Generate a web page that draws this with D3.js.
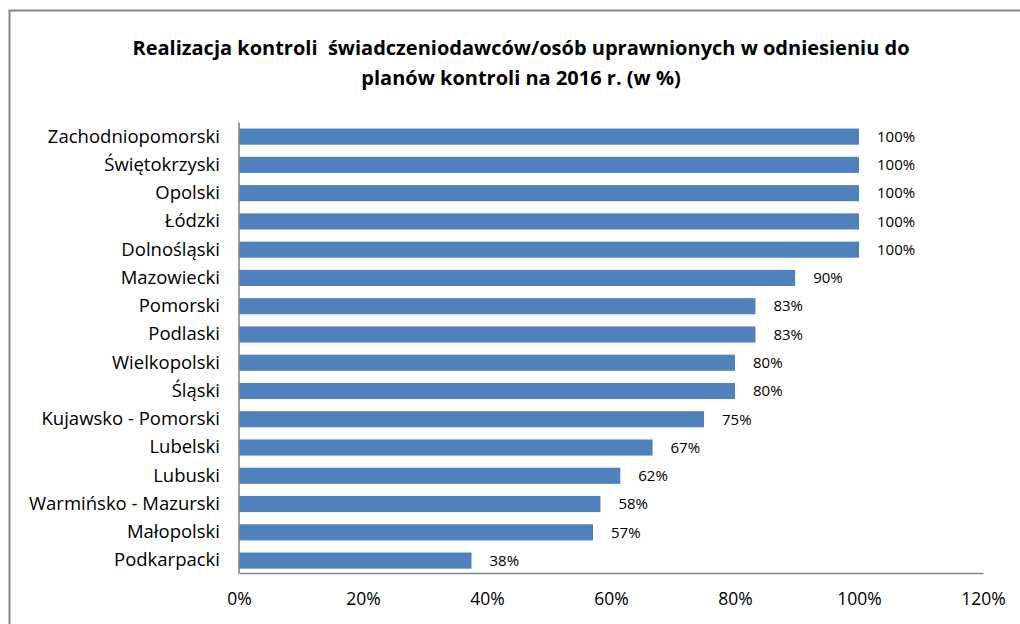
<!DOCTYPE html>
<html><head><meta charset="utf-8">
<script src="https://cdn.jsdelivr.net/npm/d3@7"></script>
<style>body{margin:0;background:#fff;} svg{display:block;} text{white-space:pre;}</style>
</head><body>
<svg id="c" width="1020" height="624"></svg>
<script>
const titleLines = ["Realizacja kontroli  świadczeniodawców/osób uprawnionych w odniesieniu do", "planów kontroli na 2016 r. (w %)"];
const categories = ["Zachodniopomorski","Świętokrzyski","Opolski","Łódzki","Dolnośląski","Mazowiecki","Pomorski","Podlaski","Wielkopolski","Śląski","Kujawsko - Pomorski","Lubelski","Lubuski","Warmińsko - Mazurski","Małopolski","Podkarpacki"];
const values = [100,100,100,100,100,89.7,83.3,83.3,80,80,75,66.7,61.5,58.3,57.1,37.5];
const valueLabels = ["100%","100%","100%","100%","100%","90%","83%","83%","80%","80%","75%","67%","62%","58%","57%","38%"];
const tickValues = [0,20,40,60,80,100,120];

const font = "'Open Sans', sans-serif";
const svg = d3.select("#c");
svg.append("rect").attr("x",9.5).attr("y",10.5).attr("width",1030).attr("height",640)
  .attr("fill","#fff").attr("stroke","#868686").attr("stroke-width",2);

const t = svg.append("text").attr("text-anchor","middle").attr("font-family",font)
  .attr("font-weight","bold").attr("font-size",20).attr("fill","#000");
titleLines.forEach((l,i)=>t.append("tspan").attr("x",521).attr("y",55+i*30).text(l));

const x = d3.scaleLinear().domain([0,120]).range([239,983]);
const y = d3.scaleBand().domain(categories).range([122.5,574.7]).paddingInner(0.43).paddingOuter(0.215);

svg.append("g").selectAll("rect").data(categories).join("rect")
  .attr("x",x(0)).attr("y",d=>y(d)).attr("height",y.bandwidth())
  .attr("width",(d,i)=>x(values[i])-x(0)).attr("fill","#4F81BD");

svg.append("g").selectAll("text").data(categories).join("text")
  .attr("x",(d,i)=>x(values[i])+18).attr("y",d=>y(d)+y.bandwidth()/2).attr("dy","0.35em")
  .attr("font-family",font).attr("font-size",15).attr("fill","#000").text((d,i)=>valueLabels[i]);

const yAxis = svg.append("g").attr("transform","translate(239,0)")
  .call(d3.axisLeft(y).tickSize(0).tickPadding(19));
yAxis.select(".domain").attr("stroke","#868686").attr("stroke-width",1.6).attr("d","M0,122.5V573.5");
yAxis.selectAll("text").attr("font-family",font).attr("font-size",18.5).attr("fill","#000");

const xAxis = svg.append("g").attr("transform","translate(0,573)")
  .call(d3.axisBottom(x).tickValues(tickValues).tickSize(0).tickPadding(20).tickFormat(d=>d+"%"));
xAxis.select(".domain").attr("stroke","#868686").attr("stroke-width",1.6);
xAxis.selectAll("text").attr("font-family",font).attr("font-size",17.5).attr("fill","#000");
</script>
</body></html>
